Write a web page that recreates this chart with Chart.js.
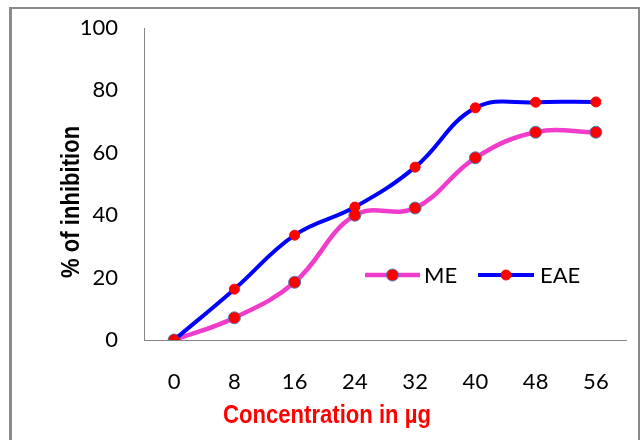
<!DOCTYPE html>
<html>
<head>
<meta charset="utf-8">
<title>Inhibition</title>
<script src="https://cdn.jsdelivr.net/npm/chart.js@4.4.0/dist/chart.umd.min.js"></script>
<style>
    html, body { margin: 0; padding: 0; background: #fff; overflow: hidden; }
    #frame {
        position: absolute; left: 9px; top: 7px; width: 631px; height: 460px;
        box-sizing: border-box; border: 2px solid #8a8a8a; border-left-width: 3px;
    }
    #wrap { position: absolute; left: 0; top: 0; width: 641px; height: 440px; }
</style>
</head>
<body>
<div id="frame"></div>
<div id="wrap"><canvas id="inhibitionChart" width="641" height="440"></canvas></div>
<script>
// Concentration (µg) and % inhibition for the two extracts
const concentrations = ['0', '8', '16', '24', '32', '40', '48', '56'];
const meValues = [0, 7.1, 18.5, 40.0, 42.3, 58.4, 66.6, 66.6];
const eaeValues = [0, 16.3, 33.6, 42.6, 55.4, 74.4, 76.2, 76.3];
const yTicks = [0, 20, 40, 60, 80, 100];

const axisGrey = '#868686';
const tickFont = { family: 'Lato, "Open Sans", sans-serif', size: 22 };

// Axis titles and the in-plot legend, drawn after the chart
const decorations = {
    id: 'decorations',
    afterDraw(chart) {
        const c = chart.ctx;
        c.save();

        // x title (red, bold, condensed)
        c.font = 'bold 26px "Liberation Sans", Arial, sans-serif';
        c.fillStyle = '#ff0000';
        c.textBaseline = 'alphabetic';
        c.textAlign = 'left';
        c.save();
        c.translate(223, 423);
        c.scale(0.85, 1);
        c.fillText('Concentration in µg', 0, 0);
        c.restore();

        // y title (black, bold, condensed, rotated)
        c.fillStyle = '#000';
        c.save();
        c.translate(79, 278);
        c.rotate(-Math.PI / 2);
        c.scale(0.85, 1);
        c.fillText('% of inhibition', 0, 0);
        c.restore();

        // legend: line sample with a marker in the middle
        const items = [
            { ds: chart.data.datasets[0], x0: 365, x1: 420, tx: 424 },
            { ds: chart.data.datasets[1], x0: 478, x1: 534, tx: 540 }
        ];
        const ly = 275;
        c.font = '22px Lato, "Open Sans", sans-serif';
        c.textBaseline = 'middle';
        items.forEach(function (it) {
            c.strokeStyle = it.ds.borderColor;
            c.lineWidth = it.ds.borderWidth;
            c.lineCap = 'butt';
            c.beginPath();
            c.moveTo(it.x0, ly);
            c.lineTo(it.x1, ly);
            c.stroke();

            c.beginPath();
            c.arc((it.x0 + it.x1) / 2, ly, it.ds.pointRadius, 0, Math.PI * 2);
            c.fillStyle = it.ds.pointBackgroundColor;
            c.fill();
            c.lineWidth = it.ds.pointBorderWidth;
            c.strokeStyle = it.ds.pointBorderColor;
            c.stroke();

            c.fillStyle = '#000';
            c.fillText(it.ds.label, it.tx, ly + 1);
        });

        c.restore();
    }
};

const ctx = document.getElementById('inhibitionChart');

new Chart(ctx, {
    type: 'line',
    data: {
        labels: concentrations,
        datasets: [{
            label: 'ME',
            data: meValues,
            borderColor: '#f03ccb',
            borderWidth: 4.5,
            tension: 0.4,
            pointRadius: 6,
            pointBackgroundColor: '#ff0000',
            pointBorderColor: '#4a7ebb',
            pointBorderWidth: 1,
            order: 2
        }, {
            label: 'EAE',
            data: eaeValues,
            borderColor: '#0000ff',
            borderWidth: 4,
            tension: 0.4,
            pointRadius: 5,
            pointBackgroundColor: '#ff0000',
            pointBorderColor: '#ff0000',
            pointBorderWidth: 1,
            order: 1
        }]
    },
    options: {
        responsive: false,
        animation: false,
        layout: { padding: { top: 28, right: 15, left: 0, bottom: 0 } },
        plugins: {
            legend: { display: false },
            tooltip: { enabled: false },
            title: { display: false }
        },
        scales: {
            x: {
                offset: true,
                grid: { display: false, drawTicks: false },
                border: { color: axisGrey, width: 1 },
                ticks: { font: tickFont, color: '#000', padding: 29 },
                afterFit: function (scale) { scale.height = 100; }
            },
            y: {
                min: 0,
                max: 100,
                afterBuildTicks: function (scale) {
                    scale.ticks = yTicks.map(function (v) { return { value: v }; });
                },
                grid: { display: false, drawTicks: false },
                border: { color: axisGrey, width: 1 },
                ticks: { font: tickFont, color: '#000', padding: 26 },
                afterFit: function (scale) {
                    scale.width = 144;
                    // the label gap shouldn't push the plot down
                    scale.paddingTop = 0;
                    scale.paddingBottom = 0;
                }
            }
        }
    },
    plugins: [decorations]
});
</script>
</body>
</html>
